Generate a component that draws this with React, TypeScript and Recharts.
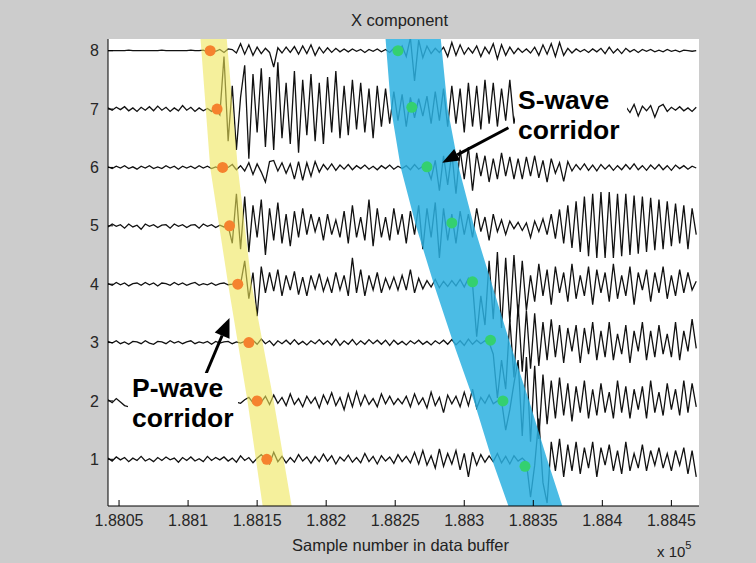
import React from 'react';
import {
  ComposedChart,
  Line,
  Scatter,
  XAxis,
  YAxis,
  CartesianGrid,
  ReferenceArea,
  ReferenceLine,
} from 'recharts';

// sample index of the first point and spacing between points (samples)
const START = 188042;
const STEP = 3;

// trace amplitudes, in hundredths of the trace spacing
const T1 = [
  2, -3, 4, -1, 3, -4, 2, -2, 5, -3,
  1, -4, 3, -2, 4, -1, 2, -5, 3, -2,
  4, -3, 1, -4, 5, -2, 3, -1, 4, -3,
  2, -5, 6, -2, 3, -6, 2, 8, 0, -8,
  12, -4, 5, -6, 3, -5, 8, -3, 4, -7,
  5, -4, 9, -3, 6, -8, 4, -3, 7, -5,
  3, -6, 10, -4, 5, -8, 6, -3, 4, -7,
  8, -4, 5, -6, 12, -8, 15, -10, 6, -15,
  18, -12, 10, -8, 15, -18, 10, -30, 12, -10,
  8, -5, 6, -4, 10, -6, 5, -8, 6, -3,
  2, -5, -65, -10, 70, -40, -75, 30, -20, 35,
  -30, 25, -20, 30, -25, 20, -15, 30, -30, 20,
  -10, 25, -20, 15, -25, 30, -20, 10, -15, 25,
  -20, 15, -10, 20, -15, 10, -20, 15, -10, 20,
  -25, 15, -30,
];
const T2 = [
  2, -3, 4, -2, -8, -10, 2, -2, 3, -1,
  2, -3, 1, 2, -2, 3, -1, 2, -3, 1,
  2, -1, 3, -2, 1, -2, 3, -1, 2, -3,
  1, -2, -4, 2, 6, -3, 4, -2, 8, -6,
  10, -4, 6, -8, 12, -6, 4, -10, 8, -4,
  6, -12, 10, -5, 14, -8, 6, -15, 12, -10,
  16, -8, 10, -6, 4, -10, 12, -5, 8, -6,
  4, -5, 8, -10, 12, -6, 5, -12, 15, -8,
  6, -20, 10, -5, 8, -10, 15, -8, 20, -12,
  6, -4, 10, -5, 0, 0, -50, -15, 30, 70,
  -60, 75, -70, 60, -65, 45, -40, 35, -30, 40,
  -25, 30, -35, 25, -20, 35, -30, 20, -25, 30,
  -20, 15, -30, 35, -20, 25, -30, 20, -15, 25,
  -30, 35, -20, 15, -25, 30, -15, 20, -25, 35,
  -20, 30, -10,
];
const T3 = [
  2, -1, 3, -2, 1, -3, 2, 1, -2, 3,
  -1, -3, 2, 1, -2, 3, -1, 2, -2, 1,
  3, -2, 1, -1, 2, -3, 2, -1, 1, 2,
  -2, 1, -1, 2, 0, 4, -3, 6, -2, 3,
  -5, 3, -2, 4, -3, 5, -3, 2, -4, 3,
  -2, 5, -3, 3, -4, 6, -5, 3, -3, 5,
  -4, 3, -3, 5, -2, 4, -3, 4, -5, 4,
  -3, 2, -4, 3, -2, 4, -3, 2, -4, 3,
  -2, 4, -3, 5, -4, 3, -5, 6, -3, 4,
  -2, 3, 0, -20, -95, -30, -80, 40, -60, 65,
  -50, 55, -45, 50, -40, 35, -30, 40, -25, 30,
  -35, 25, -15, 30, -35, 25, -20, 35, -30, 20,
  -25, 35, -30, 15, -20, 30, -35, 20, -15, 35,
  -30, 20, -25, 30, -20, 15, -25, 35, -30, 20,
  -15, 40, -10,
];
const T4 = [
  1, -2, 3, -1, 2, -3, 1, 2, -2, 3,
  -1, 2, -3, 2, 1, -2, 3, -1, 2, -2,
  1, 3, -2, 1, -1, 2, -2, 1, 2, -1,
  0, 2, 0, 40, -25, 20, -55, 30, -15, 20,
  -12, 25, -20, 15, -10, 22, -18, 12, -20, 15,
  -8, 18, -12, 10, -15, 20, -10, 15, -20, 45,
  -15, 25, -20, 15, -10, 20, -15, 10, -8, 12,
  -10, 15, -10, 25, -15, 10, -8, 6, -5, 8,
  -6, 5, -4, 6, -3, 8, -5, 10, 0, -90,
  -20, -70, 40, -60, 55, -75, 45, -65, 50, -55,
  40, -45, 15, -30, 35, -20, 25, -35, 30, -15,
  20, -30, 35, -25, 15, -20, 30, -35, 25, -15,
  20, -30, 35, -25, 15, -20, 30, -35, 20, -10,
  25, -30, 20, -15, 30, -25, 15, -20, 25, -15,
  20, -10, 5,
];
const T5 = [
  -2, 3, -1, 2, -4, 3, -2, 1, -6, 3,
  -1, 2, -3, 1, 2, -4, 3, -1, 2, -3,
  1, 2, -4, 3, -1, 2, -3, 1, -2, 0,
  -30, 55, -40, 50, -45, 35, -20, 45, -50, 30,
  -25, 40, -30, 20, -35, 25, -20, 30, -15, 20,
  -10, 15, -25, 20, -15, 10, -20, 25, -30, 35,
  -20, 15, -25, 45, -35, 30, -20, 15, -25, 30,
  -15, 20, -30, 25, -15, 35, -40, 30, -20, 40,
  -55, 30, -25, 20, -30, 25, -15, 20, -20, 30,
  -10, 15, -25, 20, -10, 10, -15, 8, -5, 6,
  -8, 5, -20, 8, -10, 12, -15, 20, -22, 28,
  -30, 35, -38, 42, -45, 50, -52, 55, -55, 58,
  -55, 58, -55, 55, -52, 55, -50, 52, -48, 50,
  -45, 48, -42, 45, -40, 42, -35, 38, -30, 35,
  -40, 30, -15,
];
const T6 = [
  1, -2, 2, -1, 3, -2, 1, -3, 2, -1,
  3, -2, 1, -2, 3, -1, 2, -3, 2, -1,
  2, -2, 3, -1, 2, -2, 1, -2, 1, 0,
  5, -4, 3, -6, 8, -12, 6, -8, -25, 10,
  12, -6, 8, -10, 6, -20, 10, -22, 8, -15,
  10, -8, 5, -4, 6, -5, 4, -3, 5, -4,
  3, -2, 4, -3, 2, -4, 3, -2, 4, -3,
  2, -2, 3, -4, 5, -3, 2, 0, -20, 12,
  -40, 20, -30, 25, -45, 30, -20, 35, -40, 25,
  -15, 20, -25, 15, -20, 25, -15, 18, -20, 15,
  -20, 18, -15, 20, -18, 12, -25, 15, -10, 8,
  -24, 10, -6, 5, -4, 6, -5, 4, -6, 5,
  -3, 4, -5, 3, -4, 5, -3, 6, -4, 3,
  -5, 4, -3, 5, -4, 3, -5, 4, -2, 3,
  -3, 2, -1,
];
const T7 = [
  2, -2, 3, -1, 4, -3, 2, -4, 3, -2,
  4, -3, 5, -2, 3, -4, 2, -3, 6, -2,
  3, -4, 2, -3, 1, -4, 0, -10, 90, -55,
  40, -70, 20, 75, -85, 60, -40, 70, -65, 55,
  -70, 80, -50, 45, -60, 65, -75, 50, -45, 60,
  -55, 45, -60, 55, -40, 65, -50, 40, -45, 50,
  -35, 45, -40, 35, -50, 40, -30, 35, -25, 30,
  -20, 25, -30, 20, -15, 18, -12, 22, -25, 30,
  -20, 35, -30, 40, -25, 35, -40, 45, -30, 40,
  -35, 50, -25, 45, -30, 35, -20, 50, -25, 10,
  3, -2, 4, -3, 2, -4, 3, -2, 4, -3,
  2, -3, 4, -2, 3, -4, 2, -3, 4, -2,
  3, -2, 4, -3, 2, 4, -6, 8, -12, 5,
  -3, 6, -14, 4, 8, -4, 3, -2, 4, -3,
  2, -4, 3,
];
const T8 = [
  0, 0, 0, 0, 0, 1, 0, 0, 0, 0,
  0, 0, 0, 1, 0, 0, 0, 0, 0, 0,
  1, 0, 0, 1, -2, 2, -1, 2, -3, 3,
  2, -4, 12, -6, 10, -8, 6, -5, 4, -3,
  -28, 5, -4, 6, -3, 7, -6, 8, -5, 10,
  -8, 6, -4, 5, -3, 4, -2, 3, -2, 3,
  -1, 2, -3, 2, -1, 3, -2, 2, -3, 4,
  -5, 8, -10, 22, -52, 18, -12, 8, -5, 4,
  -3, 6, -10, 14, -8, 10, -6, 5, -4, 8,
  -10, 6, -5, 12, -14, 10, -8, 6, -5, 4,
  -3, 3, -4, 6, -8, 10, -6, 12, -10, 14,
  -8, 4, -4, 3, -2, 2, -3, 3, -2, 4,
  -5, 6, -4, 3, -5, 4, -2, 2, -3, 2,
  -1, 2, -2, 1, -2, 2, -1, 1, -2, 1,
  0, -1, 0,
];
const TRACES = [T1, T2, T3, T4, T5, T6, T7, T8];

// picks (sample number, trace level)
const P_PICK_X = [188157, 188150, 188144, 188136, 188130, 188125, 188121, 188116];
const P_PICK_Y = [1, 2, 3, 4, 5, 6, 7, 8];
const S_PICK_X = [188344, 188328, 188319, 188306, 188291, 188273, 188262, 188252];
const S_PICK_Y = [0.88, 2.0, 3.04, 4.04, 5.05, 6.01, 7.03, 8.0];

// corridors: edges (sample number) at given trace levels
const P_BAND_Y = [8.2, 6, 4, 2, 0.2];
const P_BAND_LEFT = [188109, 188116, 188129, 188143, 188154];
const P_BAND_RIGHT = [188128, 188136, 188146, 188162, 188175];
const S_BAND_Y = [8.2, 7, 6, 5, 4, 3, 2, 1, 0.2];
const S_BAND_LEFT = [188243, 188247, 188254, 188265, 188278, 188292, 188307, 188320, 188332];
const S_BAND_RIGHT = [188283, 188288, 188296, 188307, 188320, 188333, 188347, 188360, 188371];

const X_TICKS = [188050, 188100, 188150, 188200, 188250, 188300, 188350, 188400, 188450];
const X_TICK_LABELS = ['1.8805', '1.881', '1.8815', '1.882', '1.8825', '1.883', '1.8835', '1.884', '1.8845'];
const Y_TICKS = [1, 2, 3, 4, 5, 6, 7, 8];
const X_DOMAIN = [188042, 188470];
const Y_DOMAIN = [0.2, 8.2];

const data = T1.map((_, i) => {
  const row: any = { x: START + STEP * i };
  TRACES.forEach((t, k) => {
    row['t' + (k + 1)] = k + 1 + t[i] / 100;
  });
  return row;
});
const pDots = P_PICK_X.map((x, i) => ({ x, y: P_PICK_Y[i] }));
const sDots = S_PICK_X.map((x, i) => ({ x, y: S_PICK_Y[i] }));

const FONT = '"Liberation Sans", Arial, Helvetica, sans-serif';

function bandShape(ys: number[], left: number[], right: number[], fill: string, opacity: number) {
  const x1 = Math.min(...left);
  const x2 = Math.max(...right);
  const shape = (p: any) => {
    const sx = (s: number) => p.x + ((s - x1) / (x2 - x1)) * p.width;
    const sy = (v: number) => p.y + ((Y_DOMAIN[1] - v) / (Y_DOMAIN[1] - Y_DOMAIN[0])) * p.height;
    const pts = [
      ...ys.map((v, i) => `${sx(left[i])},${sy(v)}`),
      ...ys.map((v, i) => `${sx(right[i])},${sy(v)}`).reverse(),
    ].join(' ');
    return <polygon points={pts} fill={fill} fillOpacity={opacity} stroke="none" />;
  };
  return { x1, x2, shape };
}

const pBand = bandShape(P_BAND_Y, P_BAND_LEFT, P_BAND_RIGHT, '#efe65a', 0.6);
const sBand = bandShape(S_BAND_Y, S_BAND_LEFT, S_BAND_RIGHT, '#2bb0e0', 0.85);

const arrowShape = (head: number, half: number) => (p: any) => {
  const { x1, y1, x2, y2 } = p;
  const a = Math.atan2(y2 - y1, x2 - x1);
  const bx = x2 - head * Math.cos(a);
  const by = y2 - head * Math.sin(a);
  const nx = half * Math.sin(a);
  const ny = half * Math.cos(a);
  return (
    <g>
      <line x1={x1} y1={y1} x2={bx} y2={by} stroke="#000" strokeWidth={3} />
      <polygon points={`${x2},${y2} ${bx + nx},${by - ny} ${bx - nx},${by + ny}`} fill="#000" />
    </g>
  );
};

const S_ARROW = [{ x: 188332, y: 6.68 }, { x: 188284, y: 6.08 }];
const P_ARROW = [{ x: 188112, y: 2.41 }, { x: 188130, y: 3.42 }];

const labelBox: React.CSSProperties = {
  position: 'absolute',
  background: '#fff',
  fontFamily: FONT,
  fontWeight: 'bold',
  fontSize: 26.5,
  lineHeight: '30px',
  color: '#000',
  boxSizing: 'border-box',
};

export default function App() {
  return (
    <div style={{ position: 'absolute', left: 0, top: 0, width: 756, height: 563, background: '#cccccc', overflow: 'hidden' }}>
      <ComposedChart width={756} height={563} data={data} margin={{ top: 39, right: 57, bottom: 27, left: 68 }}>
        <CartesianGrid horizontal={false} vertical={false} fill="#ffffff" />
        <XAxis
          dataKey="x"
          type="number"
          domain={X_DOMAIN}
          allowDataOverflow
          ticks={X_TICKS}
          tickFormatter={(v: number) => X_TICK_LABELS[X_TICKS.indexOf(v)]}
          height={30}
          tickSize={-6}
          tickMargin={15}
          axisLine={{ stroke: '#000' }}
          tickLine={{ stroke: '#000' }}
          tick={{ fill: '#262626', fontSize: 16, fontFamily: FONT }}
        />
        <YAxis
          type="number"
          domain={Y_DOMAIN}
          allowDataOverflow
          ticks={Y_TICKS}
          width={40}
          tickSize={-5}
          tickMargin={14}
          axisLine={{ stroke: '#000' }}
          tickLine={{ stroke: '#000' }}
          tick={{ fill: '#262626', fontSize: 16, fontFamily: FONT }}
        />
        {TRACES.map((_, k) => (
          <Line
            key={k}
            dataKey={'t' + (k + 1)}
            type="linear"
            stroke="#111"
            strokeWidth={1.3}
            dot={false}
            activeDot={false}
            isAnimationActive={false}
          />
        ))}
        <ReferenceArea x1={pBand.x1} x2={pBand.x2} y1={Y_DOMAIN[0]} y2={Y_DOMAIN[1]} shape={pBand.shape} zIndex={450} />
        <ReferenceArea x1={sBand.x1} x2={sBand.x2} y1={Y_DOMAIN[0]} y2={Y_DOMAIN[1]} shape={sBand.shape} zIndex={450} />
        <Scatter
          data={pDots}
          dataKey="y"
          isAnimationActive={false}
          shape={(p: any) => <circle cx={p.cx} cy={p.cy} r={5.5} fill="#f5822e" />}
        />
        <Scatter
          data={sDots}
          dataKey="y"
          isAnimationActive={false}
          shape={(p: any) => <circle cx={p.cx} cy={p.cy} r={5.5} fill="#34d070" />}
        />
        <ReferenceLine segment={S_ARROW} shape={arrowShape(17, 6.5)} zIndex={700} />
        <ReferenceLine segment={P_ARROW} shape={arrowShape(19, 8)} zIndex={700} />
      </ComposedChart>

      <div style={{ position: 'absolute', left: 0, width: 799, top: 11, textAlign: 'center', fontFamily: FONT, fontSize: 16.5, color: '#222' }}>
        X component
      </div>
      <div style={{ position: 'absolute', left: 0, width: 801, top: 536, textAlign: 'center', fontFamily: FONT, fontSize: 16.5, color: '#222' }}>
        Sample number in data buffer
      </div>
      <div style={{ position: 'absolute', left: 657, top: 541, fontFamily: FONT, fontSize: 15, color: '#222' }}>
        x 10<sup style={{ fontSize: 11, position: 'relative', top: -2 }}>5</sup>
      </div>

      <div style={{ ...labelBox, left: 515, top: 85, width: 112, height: 58, paddingLeft: 3 }}>
        S-wave
        <br />
        corridor
      </div>
      <div style={{ ...labelBox, left: 128, top: 373, width: 110, height: 60, paddingLeft: 4 }}>
        P-wave
        <br />
        corridor
      </div>
    </div>
  );
}
